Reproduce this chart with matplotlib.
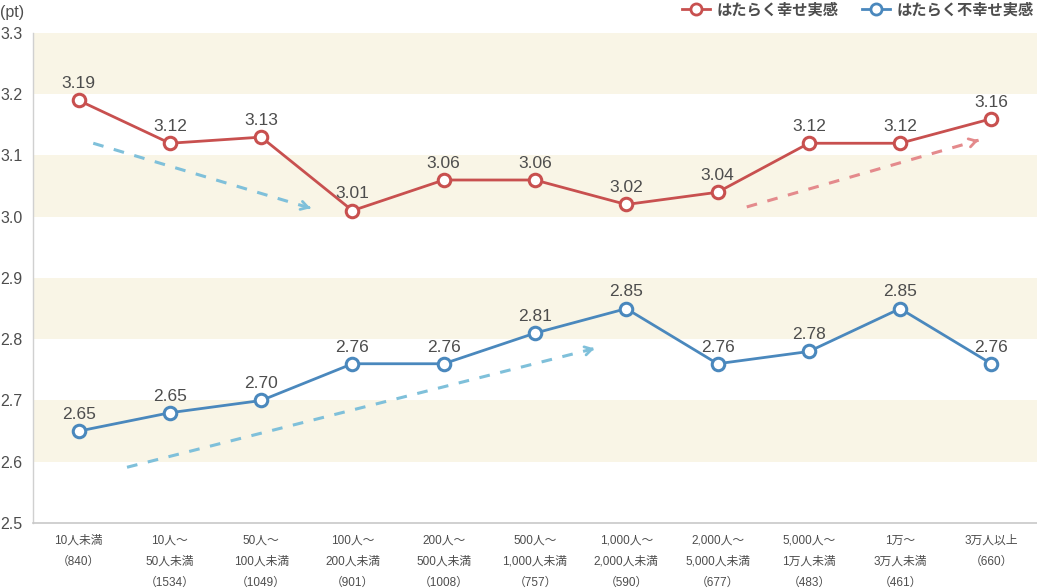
import matplotlib
matplotlib.use("Agg")
import matplotlib.pyplot as plt
from matplotlib.lines import Line2D

plt.rcParams['font.family'] = ['Liberation Sans', 'Noto Sans CJK JP', 'DejaVu Sans']

categories = ["10人未満\n（840）", "10人～\n50人未満\n（1534）", "50人～\n100人未満\n（1049）",
              "100人～\n200人未満\n（901）", "200人～\n500人未満\n（1008）", "500人～\n1,000人未満\n（757）",
              "1,000人～\n2,000人未満\n（590）", "2,000人～\n5,000人未満\n（677）", "5,000人～\n1万人未満\n（483）",
              "1万～\n3万人未満\n（461）", "3万人以上\n（660）"]
happy = [3.19, 3.12, 3.13, 3.01, 3.06, 3.06, 3.02, 3.04, 3.12, 3.12, 3.16]
happy_labels = ["3.19", "3.12", "3.13", "3.01", "3.06", "3.06", "3.02", "3.04", "3.12", "3.12", "3.16"]
unhappy = [2.65, 2.68, 2.70, 2.76, 2.76, 2.81, 2.85, 2.76, 2.78, 2.85, 2.76]
unhappy_labels = ["2.65", "2.65", "2.70", "2.76", "2.76", "2.81", "2.85", "2.76", "2.78", "2.85", "2.76"]
yticks = [2.5, 2.6, 2.7, 2.8, 2.9, 3.0, 3.1, 3.2, 3.3]
bands = [(3.2, 3.3), (3.0, 3.1), (2.8, 2.9), (2.6, 2.7)]
series_names = ["はたらく幸せ実感", "はたらく不幸せ実感"]
# trend arrows (start x, start y, end x, end y)
trends = [(0.16, 3.120, 2.54, 3.014, "#7fc0da"),
          (0.53, 2.591, 5.68, 2.786, "#7fc0da"),
          (7.32, 3.016, 9.86, 3.125, "#e48a8c")]

RED = "#c8504f"
BLUE = "#4a88bd"
TXT = "#4d4d4d"

fig = plt.figure(figsize=(10.37, 5.88), dpi=100)
ax = fig.add_axes([33/1037, (588-523)/588, 1 - 33/1037, (523-33)/588])

for lo, hi in bands:
    ax.axhspan(lo, hi, color="#f9f5e6", zorder=0, lw=0)

x = list(range(len(categories)))

for (x0, y0, x1, y1, c) in trends:
    ax.plot([x0, x1], [y0, y1], color=c, lw=2.2, ls=(0, (3.5, 3.5)), zorder=2, solid_capstyle='butt')
    dx, dy = x1 - x0, y1 - y0
    ax.annotate("", xy=(x1, y1), xytext=(x1 - dx * 0.02, y1 - dy * 0.02),
                arrowprops=dict(arrowstyle="->,head_length=0.5,head_width=0.3", color=c, lw=2.0),
                zorder=2)

for vals, labs, col in [(happy, happy_labels, RED), (unhappy, unhappy_labels, BLUE)]:
    ax.plot(x, vals, color=col, lw=2.0, marker='o', ms=9, mfc='white', mec=col, mew=2.2, zorder=4)
    for xi, v, l in zip(x, vals, labs):
        ax.annotate(l, (xi, v), xytext=(0, 12), textcoords='offset points', ha='center', va='center',
                    fontsize=12.5, color=TXT, zorder=5)

ax.set_xlim(-0.5, 10.5)
ax.set_ylim(2.5, 3.3)
ax.set_yticks(yticks)
ax.set_yticklabels([f"{t:.1f}" for t in yticks])
ax.set_xticks(x)
ax.set_xticklabels(categories, fontsize=8.5, color=TXT, linespacing=2.0, va='top')
ax.tick_params(axis='both', length=0)
ax.tick_params(axis='x', pad=8.5)
for lab in ax.get_yticklabels():
    lab.set_horizontalalignment('left')
    lab.set_fontsize(11.5)
    lab.set_color(TXT)
ax.tick_params(axis='y', pad=23.5)

for s in ['top', 'right']:
    ax.spines[s].set_visible(False)
ax.spines['left'].set_color('#d0d0d0')
ax.spines['bottom'].set_color('#c8c8c8')
ax.spines['left'].set_linewidth(1.0)
ax.spines['bottom'].set_linewidth(1.2)

fig.text(0 / 1037, 1 - 12 / 588, "(pt)", fontsize=11.5, color=TXT, ha='left', va='center')

handles = [Line2D([], [], color=RED, lw=2, marker='o', ms=8, mfc='white', mec=RED, mew=2),
           Line2D([], [], color=BLUE, lw=2, marker='o', ms=8, mfc='white', mec=BLUE, mew=2)]
leg = fig.legend(handles, series_names, loc='center right', bbox_to_anchor=(1.0 + 4 / 1037, 1 - 10 / 588),
                 ncol=2, frameon=False, fontsize=11, handlelength=1.8, columnspacing=1.6,
                 handletextpad=0.4, borderaxespad=0.1)
for t in leg.get_texts():
    t.set_color(TXT)
    t.set_fontweight('bold')

fig.savefig("out.png", dpi=100)
